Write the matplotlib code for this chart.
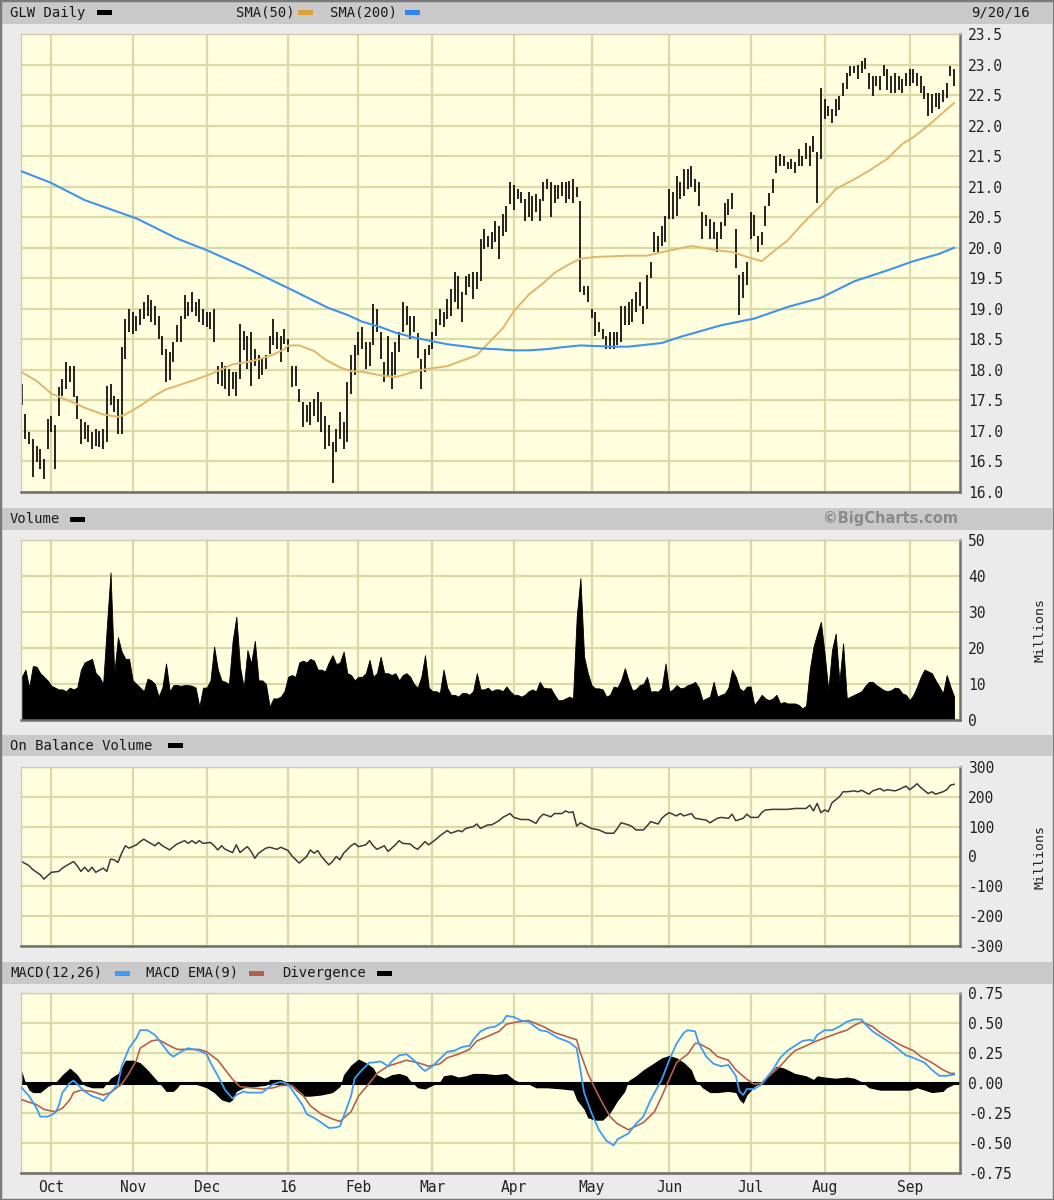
"""GLW daily chart (BigCharts style): price bars + SMAs, volume, OBV and MACD."""
import numpy as np
import pandas as pd
import matplotlib
matplotlib.use('Agg')
import matplotlib.pyplot as plt
from matplotlib.patches import Rectangle

plt.rcParams['axes.unicode_minus'] = False

W, H = 1054, 1200
MONO = 'DejaVu Sans Mono'

# trading calendar 2015-09-21 .. 2016-09-20 (NYSE holidays removed)
HOLIDAYS = ['2015-11-26', '2015-12-25', '2016-01-01', '2016-01-18', '2016-02-15',
            '2016-03-25', '2016-05-30', '2016-07-04', '2016-09-05']
dates = pd.bdate_range('2015-09-21', '2016-09-20')
dates = dates[~dates.isin(pd.to_datetime(HOLIDAYS))]
MONTH_LABELS = ['Oct', 'Nov', 'Dec', '16', 'Feb', 'Mar', 'Apr', 'May', 'Jun',
                'Jul', 'Aug', 'Sep']

# daily high / low (USD)
price_high = [
    17.77, 17.28, 16.98, 16.87, 16.76, 16.71, 16.54, 17.20, 17.25, 17.09,
    17.72, 17.85, 18.13, 18.07, 18.07, 17.58, 17.20, 17.14, 17.09, 16.98,
    17.03, 17.00, 17.03, 17.74, 17.77, 17.58, 17.53, 18.37, 18.84, 19.00,
    18.94, 18.89, 19.00, 19.11, 19.22, 19.14, 19.05, 18.89, 18.56, 18.34,
    18.29, 18.45, 18.73, 18.89, 19.22, 19.11, 19.27, 19.11, 19.16, 19.00,
    18.94, 18.94, 19.00, 18.07, 18.13, 18.07, 18.02, 17.96, 17.96, 18.75,
    18.64, 18.56, 18.62, 18.34, 18.24, 18.18, 18.24, 18.56, 18.84, 18.62,
    18.56, 18.67, 18.51, 18.07, 18.07, 17.69, 17.47, 17.42, 17.47, 17.53,
    17.64, 17.47, 17.25, 17.09, 16.82, 17.03, 17.31, 17.14, 17.80, 18.25,
    18.40, 18.62, 18.70, 18.45, 18.45, 19.08, 19.00, 18.62, 18.13, 18.55,
    18.29, 18.45, 18.62, 19.11, 19.05, 18.89, 18.89, 18.60, 18.18, 18.34,
    18.40, 18.62, 18.84, 19.00, 18.95, 19.16, 19.33, 19.60, 19.54, 19.27,
    19.54, 19.57, 19.60, 19.60, 20.14, 20.31, 20.20, 20.25, 20.44, 20.36,
    20.55, 20.69, 21.07, 21.02, 20.96, 20.91, 20.80, 20.91, 20.85, 20.88,
    20.80, 21.07, 21.13, 21.07, 21.02, 21.02, 21.07, 21.07, 21.10, 21.12,
    20.99, 20.77, 19.38, 19.38, 19.00, 18.94, 18.78, 18.67, 18.56, 18.62,
    18.62, 18.62, 19.05, 19.05, 19.11, 19.16, 19.27, 19.44, 19.05, 19.55,
    19.77, 20.26, 20.20, 20.36, 20.52, 20.96, 20.91, 21.17, 21.07, 21.29,
    21.29, 21.34, 21.13, 21.07, 20.58, 20.53, 20.47, 20.42, 20.26, 20.42,
    20.74, 20.80, 20.90, 20.31, 19.55, 19.60, 19.77, 20.58, 20.53, 20.20,
    20.26, 20.69, 20.90, 21.12, 21.50, 21.53, 21.51, 21.40, 21.45, 21.40,
    21.61, 21.51, 21.72, 21.67, 21.83, 21.56, 22.62, 22.43, 22.32, 22.27,
    22.43, 22.48, 22.70, 22.86, 22.97, 22.97, 23.00, 23.05, 23.11, 22.86,
    22.81, 22.81, 22.81, 23.00, 22.92, 22.81, 22.86, 22.81, 22.76, 22.86,
    22.92, 22.92, 22.86, 22.81, 22.65, 22.54, 22.51, 22.54, 22.54, 22.59,
    22.70, 22.97, 22.92,
]
price_low = [
    17.42, 16.87, 16.79, 16.25, 16.49, 16.38, 16.22, 16.71, 16.98, 16.38,
    17.25, 17.58, 17.69, 17.80, 17.55, 17.20, 16.79, 16.87, 16.82, 16.71,
    16.76, 16.74, 16.71, 16.82, 17.42, 17.31, 16.95, 16.95, 18.18, 18.62,
    18.59, 18.64, 18.73, 18.84, 18.89, 18.78, 18.73, 18.51, 18.24, 17.80,
    17.83, 18.13, 18.45, 18.45, 18.84, 18.89, 18.94, 18.89, 18.78, 18.73,
    18.70, 18.67, 18.45, 17.77, 17.74, 17.69, 17.58, 17.69, 17.58, 17.85,
    18.32, 18.02, 17.74, 18.07, 17.85, 17.91, 18.02, 18.26, 18.40, 18.34,
    18.13, 18.43, 18.29, 17.72, 17.74, 17.47, 17.06, 17.14, 17.09, 17.25,
    17.14, 16.98, 16.71, 16.76, 16.14, 16.65, 16.87, 16.71, 16.82, 17.60,
    17.91, 18.24, 18.34, 18.02, 18.07, 18.40, 18.62, 18.18, 17.80, 17.90,
    17.69, 17.91, 18.29, 18.62, 18.73, 18.50, 18.62, 18.20, 17.69, 17.96,
    18.24, 18.34, 18.56, 18.73, 18.70, 18.84, 18.89, 19.11, 19.00, 18.78,
    19.22, 19.35, 19.16, 19.33, 19.46, 19.98, 20.01, 19.98, 20.09, 19.82,
    20.20, 20.25, 20.72, 20.61, 20.80, 20.74, 20.44, 20.50, 20.44, 20.58,
    20.44, 20.77, 20.96, 20.50, 20.74, 20.80, 20.85, 20.74, 20.80, 20.74,
    20.83, 19.27, 19.22, 19.11, 18.85, 18.56, 18.62, 18.51, 18.34, 18.34,
    18.34, 18.40, 18.45, 18.73, 18.73, 18.78, 18.94, 19.05, 18.75, 19.00,
    19.50, 19.93, 19.93, 20.03, 20.09, 20.47, 20.47, 20.52, 20.80, 20.85,
    20.96, 21.00, 20.91, 20.69, 20.15, 20.36, 20.15, 20.15, 19.93, 20.15,
    20.36, 20.53, 20.63, 19.66, 18.90, 19.17, 19.39, 20.15, 20.20, 19.93,
    20.04, 20.36, 20.69, 20.90, 21.23, 21.34, 21.34, 21.29, 21.29, 21.23,
    21.34, 21.34, 21.45, 21.34, 21.56, 20.74, 21.45, 22.10, 22.16, 22.05,
    22.16, 22.26, 22.48, 22.60, 22.81, 22.86, 22.76, 22.86, 22.92, 22.60,
    22.48, 22.65, 22.59, 22.81, 22.59, 22.54, 22.54, 22.59, 22.54, 22.65,
    22.65, 22.70, 22.65, 22.54, 22.43, 22.16, 22.21, 22.30, 22.27, 22.38,
    22.45, 22.81, 22.65,
]

# moving averages, sampled (trading-day index, value)
sma50_day = [0, 4, 8, 13, 17, 22, 26, 28, 32, 36, 39, 43, 47, 51, 54, 57, 61, 64,
             68, 71, 72, 75, 79, 82, 86, 89, 92, 97, 101, 106, 110, 115, 119, 123,
             126, 130, 133, 137, 141, 144, 148, 151, 155, 160, 164, 169, 174, 178,
             181, 185, 189, 192, 196, 200, 203, 207, 211, 216, 220, 225, 229, 234,
             238, 241, 245, 248, 252]
sma50_val = [17.96, 17.82, 17.61, 17.49, 17.38, 17.27, 17.23, 17.27, 17.41, 17.58,
             17.68, 17.76, 17.84, 17.93, 18.01, 18.09, 18.13, 18.17, 18.25, 18.34,
             18.40, 18.40, 18.31, 18.17, 18.04, 17.98, 17.97, 17.91, 17.88, 17.97,
             18.02, 18.06, 18.15, 18.24, 18.43, 18.68, 18.96, 19.23, 19.42, 19.59,
             19.73, 19.82, 19.85, 19.86, 19.87, 19.87, 19.94, 19.99, 20.03, 19.99,
             19.95, 19.93, 19.85, 19.78, 19.93, 20.12, 20.39, 20.69, 20.96, 21.12,
             21.26, 21.46, 21.70, 21.81, 22.00, 22.16, 22.37]
sma200_day = [0, 8, 17, 31, 42, 50, 60, 73, 83, 88, 92, 97, 101, 106, 110, 115, 119,
              124, 128, 133, 137, 142, 146, 151, 155, 160, 164, 173, 178, 189, 198,
              207, 216, 225, 234, 241, 248, 252]
sma200_val = [21.25, 21.06, 20.78, 20.48, 20.15, 19.96, 19.69, 19.31, 19.01, 18.90,
              18.79, 18.70, 18.61, 18.53, 18.48, 18.42, 18.39, 18.35, 18.34, 18.32,
              18.32, 18.34, 18.37, 18.40, 18.39, 18.38, 18.38, 18.44, 18.54, 18.73,
              18.84, 19.03, 19.18, 19.45, 19.63, 19.78, 19.90, 20.00]

# daily volume (millions)
volume = [
    12, 14, 9, 15, 14.8, 13, 12, 11, 9.5, 9,
    8.5, 8.5, 8, 9, 8.5, 9, 14, 16, 16.5, 17,
    13, 12, 10, 26, 41, 13, 23, 19, 17, 17,
    11, 10, 9, 8, 11.5, 11, 10, 6.5, 9, 15.7,
    8, 9.7, 9.7, 9.5, 9.7, 9.7, 9.5, 9, 3.7, 9,
    9, 11, 20.4, 14, 11, 10.6, 10, 22, 28.7, 14.8,
    9, 19.4, 15.7, 22, 11, 11, 10, 3.7, 6, 6,
    6.5, 8, 12, 12.5, 12, 16, 16.5, 16, 17, 16.5,
    14, 14, 13.5, 16, 18, 15.5, 16, 19, 13, 12.5,
    11, 12, 12, 13, 16.7, 12, 13, 17.6, 13, 13,
    12.5, 13, 11, 12.5, 13, 12, 10, 9, 12, 18,
    9, 8, 8, 7.5, 14, 9, 7, 7, 6.5, 7.5,
    7.5, 7, 8, 13, 8.5, 8.5, 9, 8, 8.5, 8.5,
    8, 9.3, 8, 7, 7, 6.5, 7, 8, 8.5, 8,
    10.6, 9, 8.8, 8.8, 7, 5.5, 5.5, 6, 6.5, 6,
    28.7, 39.4, 17.6, 13, 9.7, 8.8, 8.8, 8.5, 6.5, 7,
    9.3, 9, 11, 14.4, 11, 8.3, 8.5, 9.7, 10, 12,
    7.9, 8, 7.9, 9, 15.7, 7.9, 8.5, 9.7, 8.8, 9,
    9.7, 10, 10.6, 9, 5.5, 6, 6.5, 10.6, 6.5, 7,
    7.4, 9, 14, 12, 8.8, 8, 9.3, 9.3, 4.2, 5.5,
    7, 6, 5.5, 6, 7, 4.6, 5, 4.6, 4.6, 4.6,
    4.2, 3.2, 4, 14, 20.4, 24, 27.3, 18.5, 8.3, 19.4,
    24, 10.6, 21.3, 6, 6.5, 7, 7.5, 8, 9.5, 10.6,
    10.6, 9.7, 9, 8.3, 8, 8.3, 9, 8.8, 7.4, 7,
    5.5, 7, 9.3, 12, 14, 13.5, 13, 11, 9.3, 7.4,
    12.5, 9.3, 6.5,
]

# on balance volume (millions), sampled
obv_day = [0, 2, 3, 5, 6, 7, 8, 10, 11, 12, 14, 15, 16, 17, 18, 19, 20, 22, 23, 24,
           25, 26, 27, 28, 29, 31, 32, 33, 34, 36, 37, 38, 40, 41, 42, 44, 45, 46,
           47, 48, 49, 51, 52, 53, 54, 55, 57, 58, 59, 60, 61, 62, 63, 64, 66, 67,
           69, 70, 72, 73, 75, 77, 78, 79, 80, 81, 83, 84, 85, 86, 87, 89, 90, 91,
           93, 94, 95, 96, 98, 99, 101, 102, 103, 105, 106, 107, 109, 110, 112,
           113, 115, 116, 118, 119, 120, 122, 123, 124, 126, 127, 129, 130, 132,
           133, 135, 137, 139, 140, 141, 143, 144, 146, 147, 148, 149, 150, 151,
           153, 154, 156, 158, 160, 161, 162, 164, 165, 166, 168, 169, 170, 172,
           173, 174, 175, 177, 178, 179, 181, 182, 184, 185, 186, 188, 189, 191,
           192, 193, 195, 196, 197, 199, 200, 201, 203, 205, 207, 209, 211, 212,
           213, 214, 215, 216, 217, 218, 219, 221, 222, 223, 225, 226, 227, 229,
           230, 232, 233, 234, 236, 237, 239, 240, 241, 242, 243, 245, 246, 247,
           249, 250, 251, 252]
obv_val = [-17, -31, -44, -61, -76, -64, -53, -50, -39, -31, -17, -31, -50, -36, -50,
           -36, -53, -39, -50, -9, -11, -20, 11, 36, 28, 39, 50, 58, 50, 36, 47, 36,
           22, 33, 42, 53, 44, 53, 44, 53, 44, 47, 36, 22, 36, 24, 13, 39, 13, 24,
           33, 17, -6, 11, 28, 31, 24, 31, 20, 2, -22, 0, 22, 11, 20, 0, -28, -17,
           0, -11, 11, 36, 44, 33, 39, 53, 36, 24, 36, 17, 39, 53, 44, 42, 31, 24,
           50, 39, 58, 69, 87, 78, 87, 83, 94, 100, 109, 94, 106, 106, 120, 131,
           144, 131, 124, 124, 111, 131, 142, 133, 144, 144, 153, 147, 150, 102,
           113, 100, 94, 89, 78, 78, 94, 113, 106, 100, 89, 89, 102, 117, 109, 128,
           139, 147, 136, 144, 136, 144, 128, 124, 122, 113, 128, 131, 128, 142,
           120, 128, 142, 131, 131, 147, 156, 158, 158, 158, 161, 161, 161, 172,
           153, 178, 147, 156, 150, 180, 200, 217, 217, 220, 217, 222, 209, 220,
           228, 220, 224, 220, 224, 236, 224, 233, 244, 231, 211, 217, 209, 217,
           224, 239, 242]

# MACD(12,26), EMA(9) signal and divergence, sampled
macd_day = [0, 2, 4, 5, 7, 9, 10, 11, 13, 14, 15, 17, 19, 21, 22, 24, 26, 27, 29,
            31, 32, 34, 36, 38, 40, 41, 43, 45, 48, 50, 51, 53, 55, 57, 58, 60, 61,
            63, 65, 67, 68, 70, 72, 74, 76, 77, 79, 81, 83, 85, 86, 87, 89, 90, 92,
            94, 95, 97, 99, 100, 102, 104, 106, 108, 109, 111, 113, 115, 117, 119,
            121, 122, 124, 126, 128, 130, 131, 133, 135, 137, 140, 142, 145, 148,
            150, 151, 152, 154, 156, 158, 160, 161, 164, 166, 168, 170, 173, 175,
            177, 179, 180, 182, 183, 185, 187, 189, 191, 193, 194, 195, 196, 198,
            200, 201, 203, 205, 207, 209, 211, 213, 214, 215, 217, 219, 221, 223,
            225, 227, 228, 230, 232, 235, 237, 239, 241, 244, 246, 248, 250, 252]
macd_val = [-0.04, -0.11, -0.21, -0.28, -0.28, -0.25, -0.19, -0.08, 0.0, 0.02,
            -0.01, -0.07, -0.11, -0.13, -0.15, -0.08, -0.01, 0.14, 0.29, 0.375,
            0.44, 0.44, 0.40, 0.32, 0.24, 0.22, 0.26, 0.29, 0.27, 0.24, 0.17, 0.06,
            -0.06, -0.13, -0.10, -0.07, -0.08, -0.08, -0.08, -0.03, -0.01, 0.01,
            -0.01, -0.10, -0.19, -0.26, -0.29, -0.33, -0.375, -0.37, -0.36, -0.28,
            -0.11, 0.04, 0.11, 0.17, 0.17, 0.18, 0.14, 0.18, 0.23, 0.24, 0.19,
            0.125, 0.10, 0.14, 0.20, 0.26, 0.27, 0.30, 0.31, 0.36, 0.43, 0.46, 0.47,
            0.51, 0.56, 0.55, 0.52, 0.51, 0.44, 0.43, 0.375, 0.34, 0.29, 0.11, -0.08,
            -0.25, -0.39, -0.48, -0.52, -0.47, -0.42, -0.34, -0.28, -0.14, 0.03,
            0.19, 0.33, 0.42, 0.44, 0.43, 0.33, 0.22, 0.16, 0.14, 0.15, 0.06, -0.07,
            -0.10, -0.05, -0.05, -0.01, 0.03, 0.11, 0.21, 0.27, 0.31, 0.35, 0.36,
            0.35, 0.40, 0.44, 0.44, 0.47, 0.51, 0.53, 0.53, 0.49, 0.43, 0.39, 0.33,
            0.28, 0.23, 0.21, 0.17, 0.11, 0.06, 0.06, 0.07]
signal_day = [0, 4, 6, 9, 11, 13, 14, 16, 19, 22, 24, 27, 29, 31, 32, 35, 37, 40,
              42, 45, 48, 50, 53, 55, 57, 59, 62, 65, 68, 70, 73, 76, 78, 81, 84,
              86, 89, 91, 94, 96, 99, 102, 104, 107, 110, 113, 115, 118, 121, 123,
              126, 129, 131, 134, 137, 141, 144, 148, 150, 151, 153, 155, 157, 159,
              161, 164, 166, 168, 171, 173, 175, 177, 180, 182, 183, 186, 188, 191,
              193, 196, 198, 200, 202, 205, 207, 209, 212, 214, 217, 220, 223, 225,
              227, 230, 232, 235, 238, 241, 243, 246, 249, 251, 252]
signal_val = [-0.14, -0.18, -0.22, -0.24, -0.21, -0.14, -0.08, -0.06, -0.07, -0.10,
              -0.08, -0.01, 0.08, 0.19, 0.29, 0.35, 0.36, 0.31, 0.28, 0.28, 0.28,
              0.26, 0.19, 0.11, 0.03, -0.03, -0.04, -0.05, -0.04, -0.02, -0.02,
              -0.10, -0.19, -0.26, -0.30, -0.32, -0.24, -0.11, 0.0, 0.08, 0.14,
              0.17, 0.19, 0.17, 0.14, 0.16, 0.21, 0.24, 0.28, 0.35, 0.39, 0.43,
              0.49, 0.51, 0.52, 0.47, 0.42, 0.38, 0.36, 0.25, 0.08, -0.05, -0.17,
              -0.28, -0.34, -0.39, -0.36, -0.33, -0.24, -0.11, 0.03, 0.17, 0.24,
              0.33, 0.33, 0.28, 0.22, 0.19, 0.11, 0.03, -0.01, 0.0, 0.06, 0.14,
              0.21, 0.27, 0.31, 0.34, 0.375, 0.41, 0.44, 0.48, 0.51, 0.47, 0.42,
              0.36, 0.31, 0.27, 0.22, 0.17, 0.11, 0.08, 0.08]
div_day = [0, 1, 2, 3, 5, 7, 9, 11, 13, 15, 17, 19, 22, 24, 26, 27, 28, 30, 32, 34,
           36, 38, 39, 41, 42, 43, 46, 48, 50, 52, 54, 56, 57, 58, 60, 63, 66, 67,
           70, 72, 74, 76, 78, 81, 84, 86, 87, 89, 91, 93, 95, 96, 98, 100, 102,
           104, 105, 107, 109, 111, 113, 114, 116, 118, 120, 122, 125, 128, 131,
           133, 135, 137, 139, 142, 146, 149, 150, 152, 153, 155, 157, 159, 161,
           163, 164, 166, 168, 171, 173, 175, 177, 179, 181, 182, 184, 186, 188,
           191, 193, 194, 195, 196, 198, 200, 202, 204, 206, 209, 212, 214, 215,
           217, 220, 223, 225, 227, 229, 232, 234, 237, 240, 242, 244, 246, 249,
           250, 252]
div_val = [0.10, 0.0, -0.06, -0.08, -0.08, -0.03, 0.0, 0.07, 0.125, 0.07, -0.02,
           -0.04, -0.04, 0.04, 0.08, 0.13, 0.19, 0.19, 0.17, 0.11, 0.04, -0.03,
           -0.07, -0.07, -0.04, 0.0, 0.0, -0.02, -0.04, -0.08, -0.14, -0.16, -0.14,
           -0.07, -0.04, -0.03, -0.02, 0.03, 0.03, 0.0, -0.06, -0.11, -0.11, -0.10,
           -0.08, -0.03, 0.07, 0.15, 0.20, 0.17, 0.125, 0.07, 0.04, 0.07, 0.08,
           0.06, 0.02, -0.04, -0.05, -0.02, 0.01, 0.06, 0.07, 0.05, 0.06, 0.08,
           0.08, 0.07, 0.08, 0.03, 0.0, -0.01, -0.04, -0.04, -0.05, -0.06, -0.14,
           -0.22, -0.29, -0.31, -0.31, -0.25, -0.15, -0.07, 0.02, 0.06, 0.11, 0.17,
           0.21, 0.23, 0.21, 0.17, 0.11, 0.03, -0.04, -0.08, -0.08, -0.07, -0.08,
           -0.14, -0.17, -0.10, -0.03, 0.01, 0.07, 0.14, 0.125, 0.08, 0.06, 0.03,
           0.06, 0.05, 0.04, 0.05, 0.04, 0.01, -0.04, -0.06, -0.06, -0.06, -0.06,
           -0.04, -0.06, -0.08, -0.07, -0.04, -0.01]

# colours
BG = '#EBEBEB'
BAND = '#C9C9C9'
FACE = '#FFFFE0'
GRID = '#DADAA6'
SMA50_C = '#E2B56A'
SMA200_C = '#3F92EE'
MACD_C = '#3D9BF5'
SIG_C = '#B5604E'


def fx(x):
    return x / W


def fy(y):
    return 1 - y / H


def panel(fig, top, bottom):
    ax = fig.add_axes([fx(21), fy(bottom), fx(960) - fx(21), (bottom - top) / H])
    ax.set_facecolor(FACE)
    ax.set_axisbelow(True)
    ax.grid(True, color=GRID, lw=1.6)
    for s in ('top', 'left'):
        ax.spines[s].set_color('#CFCFB0')
        ax.spines[s].set_linewidth(1.0)
    for s in ('bottom', 'right'):
        ax.spines[s].set_color('#6E6E6E')
        ax.spines[s].set_linewidth(1.8)
    ax.yaxis.tick_right()
    ax.tick_params(axis='y', length=0, pad=6, labelsize=10.5, labelcolor='#222')
    ax.tick_params(axis='x', length=0)
    return ax


def band(fig, top, bottom):
    fig.add_artist(Rectangle((fx(2), fy(bottom)), fx(1052) - fx(2), (bottom - top) / H,
                             transform=fig.transFigure, color=BAND, lw=0, zorder=0))


def swatch(fig, x, y, color):
    fig.add_artist(Rectangle((fx(x), fy(y + 2.5)), 15 / W, 5 / H,
                             transform=fig.transFigure, color=color, lw=0))


def label(fig, x, y, s, ha='left', **kw):
    kw.setdefault('family', MONO)
    kw.setdefault('fontsize', 10)
    kw.setdefault('color', '#1a1a1a')
    fig.text(fx(x), fy(y), s, ha=ha, va='center', **kw)


def main():
    day = np.arange(len(dates))
    per = dates.to_period('M')
    month_pos = day[1:][per[1:] != per[:-1]]

    fig = plt.figure(figsize=(W / 100, H / 100), dpi=100, facecolor=BG)

    # header bands
    band(fig, 1, 24)
    band(fig, 508, 530)
    band(fig, 735, 756)
    band(fig, 962, 984)
    fig.add_artist(Rectangle((0, 0), 1, 1, transform=fig.transFigure,
                             fill=False, edgecolor='#7a7a7a', lw=2.5))

    label(fig, 10, 12.5, 'GLW Daily')
    swatch(fig, 97, 12.5, 'black')
    label(fig, 236, 12.5, 'SMA(50)')
    swatch(fig, 298, 12.5, '#D9A23A')
    label(fig, 330, 12.5, 'SMA(200)')
    swatch(fig, 405, 12.5, '#2F86F0')
    label(fig, 1030, 12.5, '9/20/16', ha='right')

    label(fig, 10, 519, 'Volume')
    swatch(fig, 70, 519, 'black')
    label(fig, 958, 519, '\u00a9BigCharts.com', ha='right', family='DejaVu Sans',
          fontweight='bold', color='#8a8a8a', fontsize=10.5)
    label(fig, 10, 745.5, 'On Balance Volume')
    swatch(fig, 168, 745.5, 'black')
    label(fig, 10, 973, 'MACD(12,26)')
    swatch(fig, 115, 973, MACD_C)
    label(fig, 146, 973, 'MACD EMA(9)')
    swatch(fig, 249, 973, SIG_C)
    label(fig, 282, 973, 'Divergence')
    swatch(fig, 377, 973, 'black')

    xlim = (-0.2, 253.6)

    # ---- price ----
    ax = panel(fig, 34, 492)
    ax.vlines(day, price_low, price_high, colors='#111111', lw=1.3, zorder=2)
    ax.plot(sma50_day, sma50_val, color=SMA50_C, lw=1.4, zorder=3)
    ax.plot(sma200_day, sma200_val, color=SMA200_C, lw=1.5, zorder=3)
    pt = np.arange(16.0, 23.51, 0.5)
    ax.set_ylim(16.0, 23.5)
    ax.set_yticks(pt)
    ax.set_yticklabels([f'{v:.1f}' for v in pt], family=MONO)

    # ---- volume ----
    axv = panel(fig, 540, 720)
    axv.fill_between(day, volume, 0, color='black', lw=0.6, edgecolor='black',
                     zorder=2)
    vt = np.arange(0, 51, 10)
    axv.set_ylim(0, 50)
    axv.set_yticks(vt)
    axv.set_yticklabels([str(v) for v in vt], family=MONO)

    # ---- OBV ----
    axo = panel(fig, 767, 946)
    axo.plot(obv_day, obv_val, color='#3a3a3a', lw=1.1, zorder=2)
    ot = np.arange(-300, 301, 100)
    axo.set_ylim(-300, 300)
    axo.set_yticks(ot)
    axo.set_yticklabels([str(v) for v in ot], family=MONO)

    # ---- MACD ----
    axm = panel(fig, 993, 1173)
    axm.fill_between(div_day, div_val, 0, color='black', lw=0, zorder=2)
    axm.axhline(0, color='black', lw=2.2, zorder=2)
    axm.plot(signal_day, signal_val, color=SIG_C, lw=1.2, zorder=3)
    axm.plot(macd_day, macd_val, color=MACD_C, lw=1.3, zorder=4)
    mt = np.arange(-0.75, 0.76, 0.25)
    axm.set_ylim(-0.75, 0.75)
    axm.set_yticks(mt)
    axm.set_yticklabels([f'{v:.2f}' for v in mt], family=MONO)

    for a in (ax, axv, axo, axm):
        a.set_xlim(*xlim)
        a.set_xticks(month_pos)
        if a is axm:
            a.set_xticklabels(MONTH_LABELS, family=MONO, fontsize=10.5, color='#222')
            a.tick_params(axis='x', pad=5)
        else:
            a.set_xticklabels([])

    for yc in (630, 857):
        fig.text(fx(1040), fy(yc), 'Millions', rotation=90, ha='center', va='center',
                 family=MONO, fontsize=9.5, color='#222')

    fig.savefig('out.png', dpi=100, facecolor=BG)
    plt.close(fig)


if __name__ == '__main__':
    main()
